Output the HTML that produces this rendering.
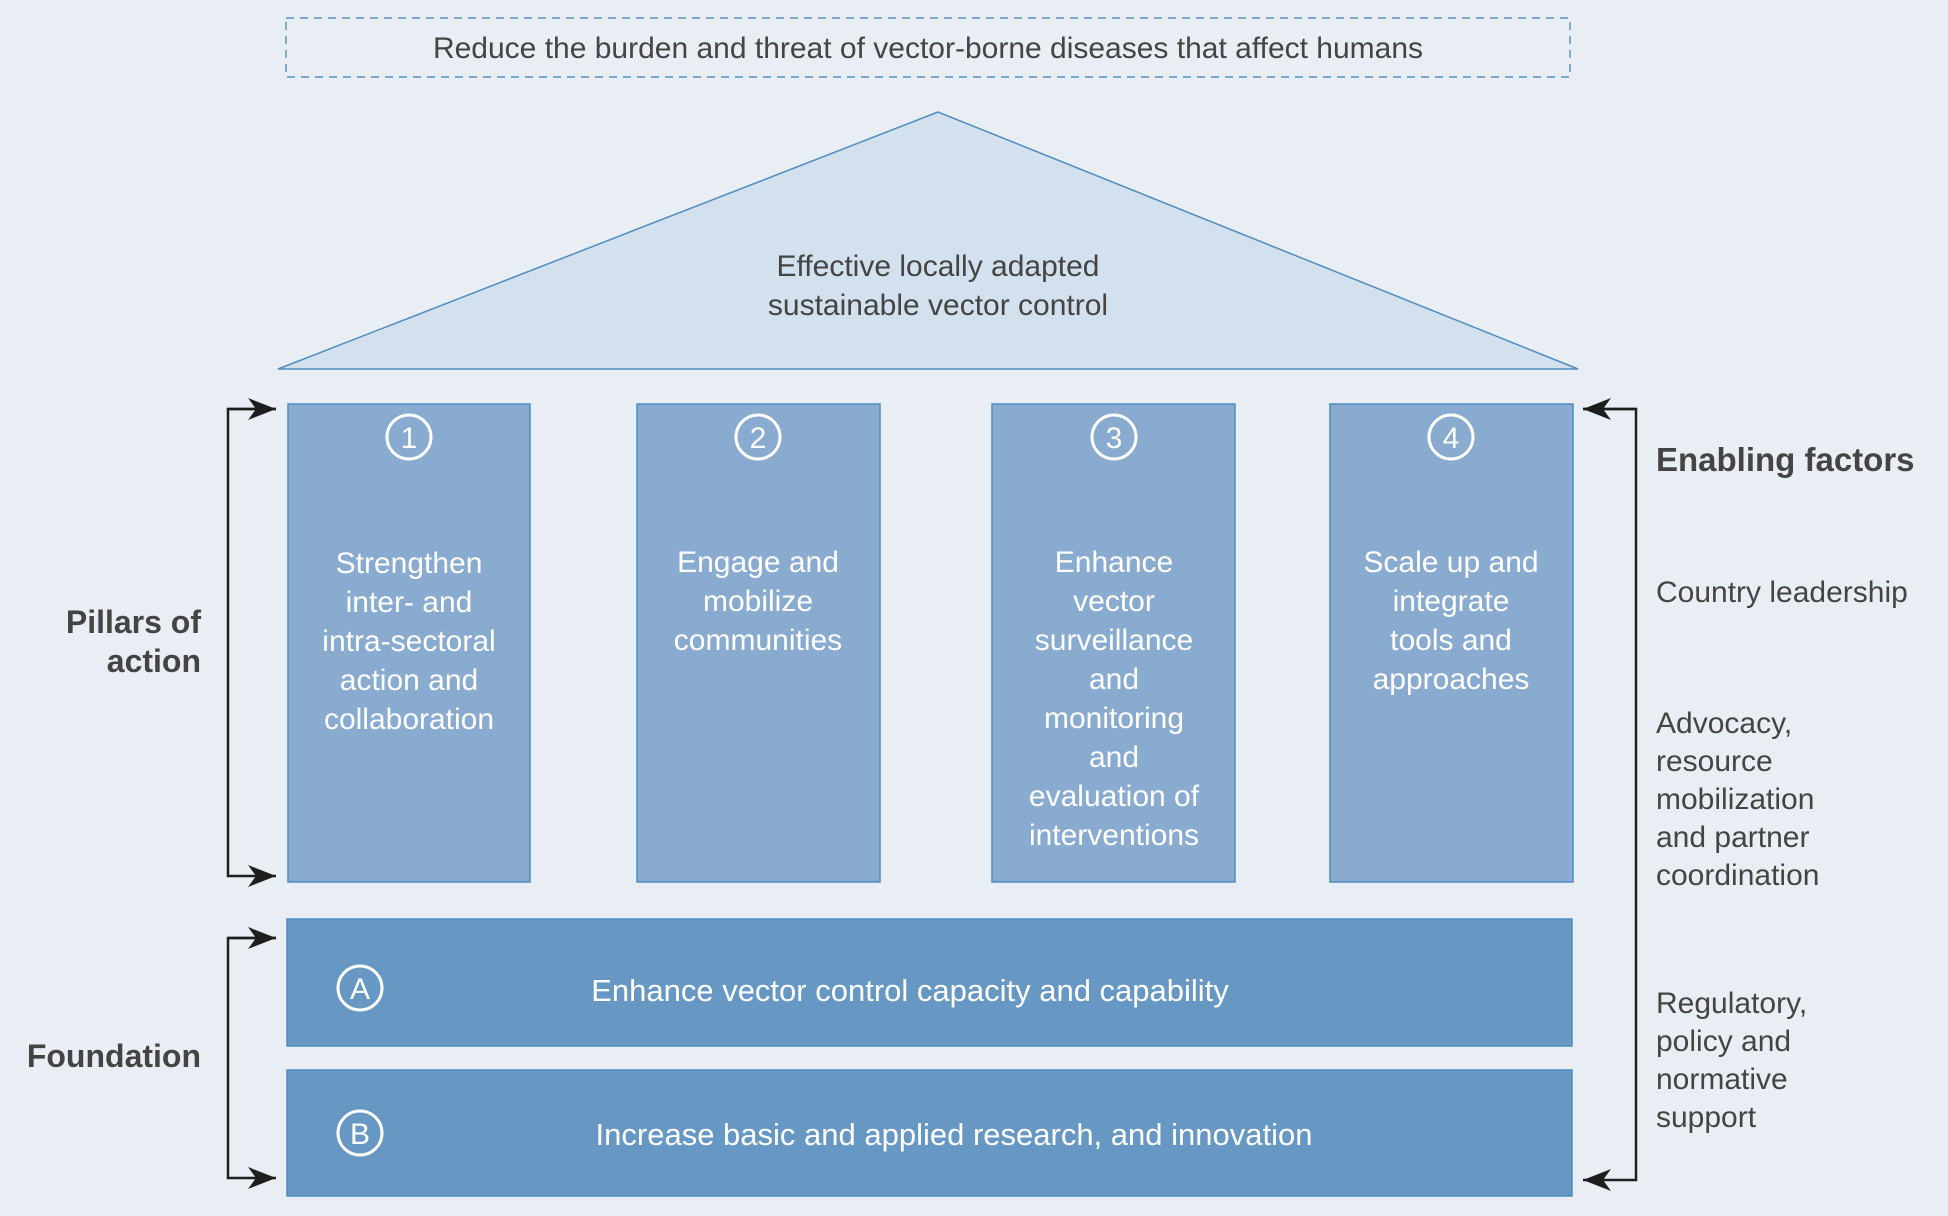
<!DOCTYPE html>
<html><head><meta charset="utf-8"><style>
html,body{margin:0;padding:0;background:#e9eef5;}
svg{display:block;}
text{font-family:"Liberation Sans",sans-serif;}
</style></head><body>
<svg width="1948" height="1216" viewBox="0 0 1948 1216" xmlns="http://www.w3.org/2000/svg">
<defs>
<marker id="ah" viewBox="0 0 28 22" refX="28" refY="11" markerWidth="28" markerHeight="22" markerUnits="userSpaceOnUse" orient="auto">
<path d="M0,0 L28,11 L0,22 L8,11 Z" fill="#1e1e1e"/>
</marker>
</defs>
<rect width="1948" height="1216" fill="#e9eef5"/>
<rect x="286" y="18" width="1284" height="59" fill="none" stroke="#5b93c6" stroke-width="1.5" stroke-dasharray="8,6"/>
<text x="928" y="58" text-anchor="middle" font-size="30" fill="#444">Reduce the burden and threat of vector-borne diseases that affect humans</text>
<polygon points="938,112 278,369 1578,369" fill="#d3e0ed" stroke="#4f8cc0" stroke-width="1.5"/>
<text x="938" y="276" text-anchor="middle" font-size="30" fill="#444">Effective locally adapted</text>
<text x="938" y="315" text-anchor="middle" font-size="30" fill="#444">sustainable vector control</text>
<g fill="#8aabd0" stroke="#4f8cc0" stroke-width="1.5">
<rect x="288" y="404" width="242" height="478"/>
<rect x="637" y="404" width="243" height="478"/>
<rect x="992" y="404" width="243" height="478"/>
<rect x="1330" y="404" width="243" height="478"/>
</g>
<rect x="287" y="919" width="1285" height="127" fill="#6798c4" stroke="#4f8cc0" stroke-width="1.5"/>
<rect x="287" y="1070" width="1285" height="126" fill="#6798c4" stroke="#4f8cc0" stroke-width="1.5"/>
<g fill="none" stroke="#fff" stroke-width="3">
<circle cx="409" cy="437" r="22"/><circle cx="758" cy="437" r="22"/><circle cx="1114" cy="437" r="22"/><circle cx="1451" cy="437" r="22"/>
<circle cx="360" cy="988" r="22"/><circle cx="360" cy="1133" r="22"/>
</g>
<g fill="#fff" font-size="30" text-anchor="middle">
<text x="409" y="448">1</text><text x="758" y="448">2</text><text x="1114" y="448">3</text><text x="1451" y="448">4</text>
<text x="360" y="999">A</text><text x="360" y="1144">B</text>
</g>
<g fill="#fff" font-size="30" text-anchor="middle">
<text x="409" y="573">Strengthen</text><text x="409" y="612">inter- and</text><text x="409" y="651">intra-sectoral</text><text x="409" y="690">action and</text><text x="409" y="729">collaboration</text>
<text x="758" y="572">Engage and</text><text x="758" y="611">mobilize</text><text x="758" y="650">communities</text>
<text x="1114" y="572">Enhance</text><text x="1114" y="611">vector</text><text x="1114" y="650">surveillance</text><text x="1114" y="689">and</text><text x="1114" y="728">monitoring</text><text x="1114" y="767">and</text><text x="1114" y="806">evaluation of</text><text x="1114" y="845">interventions</text>
<text x="1451" y="572">Scale up and</text><text x="1451" y="611">integrate</text><text x="1451" y="650">tools and</text><text x="1451" y="689">approaches</text>
</g>
<text x="910" y="1001" text-anchor="middle" font-size="31" fill="#fff">Enhance vector control capacity and capability</text>
<text x="954" y="1145" text-anchor="middle" font-size="31" fill="#fff">Increase basic and applied research, and innovation</text>
<g fill="none" stroke="#1e1e1e" stroke-width="2.5">
<path d="M276,409 L228,409 L228,876 L276,876" marker-end="url(#ah)"/>
<path d="M276,409 L228,409" marker-end="url(#ah)" transform="rotate(180 252 409)"/>
<path d="M276,938 L228,938 L228,1178 L276,1178" marker-end="url(#ah)"/>
<path d="M276,938 L228,938" transform="rotate(180 252 938)" marker-end="url(#ah)"/>
<path d="M1583,409 L1636,409 L1636,1180 L1583,1180" marker-end="url(#ah)"/>
<path d="M1583,409 L1636,409" transform="rotate(180 1609.5 409)" marker-end="url(#ah)"/>
</g>
<g fill="#444" font-size="32" font-weight="bold" text-anchor="end">
<text x="201" y="633">Pillars of</text><text x="201" y="672">action</text>
<text x="201" y="1067">Foundation</text>
</g>
<text x="1656" y="471" font-size="33" font-weight="bold" fill="#444">Enabling factors</text>
<g fill="#444" font-size="30">
<text x="1656" y="602">Country leadership</text>
<text x="1656" y="733">Advocacy,</text><text x="1656" y="771">resource</text><text x="1656" y="809">mobilization</text><text x="1656" y="847">and partner</text><text x="1656" y="885">coordination</text>
<text x="1656" y="1013">Regulatory,</text><text x="1656" y="1051">policy and</text><text x="1656" y="1089">normative</text><text x="1656" y="1127">support</text>
</g>
</svg>
</body></html>
